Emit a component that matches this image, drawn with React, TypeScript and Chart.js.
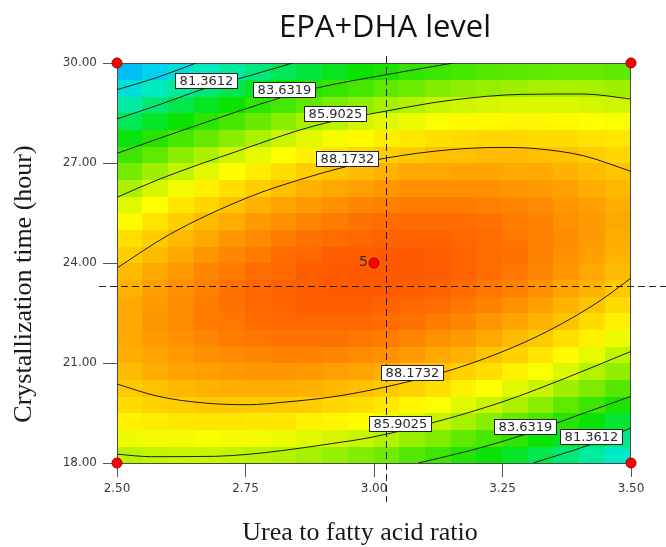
import React, { useEffect, useRef } from 'react';
import { Chart, registerables } from 'chart.js';

Chart.register(...registerables);

// ---------- axis ticks ----------
const xTicks = [2.5, 2.75, 3.0, 3.25, 3.5];
const yTicks = [18, 21, 24, 27, 30];

// ---------- response surface grid (cell edges + values, rows bottom -> top) ----------
const xEdges = [2.5, 2.55, 2.6, 2.65, 2.7, 2.75, 2.8, 2.85, 2.9, 2.95, 3.0, 3.05, 3.1, 3.15, 3.2, 3.25, 3.3, 3.35, 3.4, 3.45, 3.5];
const yEdges = [18, 18.5, 19, 19.5, 20, 20.5, 21, 21.5, 22, 22.5, 23, 23.5, 24, 24.5, 25, 25.5, 26, 26.5, 27, 27.5, 28, 28.5, 29, 29.5, 30];
const surface = [
  [85.8, 85.9, 86.0, 86.0, 85.9, 85.8, 85.7, 85.5, 85.3, 85.0, 84.7, 84.3, 83.9, 83.4, 82.9, 82.4, 81.8, 81.2, 80.5, 79.8],
  [86.6, 86.7, 86.7, 86.8, 86.7, 86.7, 86.6, 86.4, 86.2, 86.0, 85.7, 85.3, 85.0, 84.5, 84.1, 83.6, 83.0, 82.4, 81.7, 81.0],
  [87.2, 87.3, 87.4, 87.5, 87.5, 87.4, 87.4, 87.2, 87.1, 86.9, 86.6, 86.3, 85.9, 85.5, 85.1, 84.6, 84.1, 83.5, 82.9, 82.2],
  [87.7, 87.9, 88.0, 88.1, 88.1, 88.1, 88.1, 88.0, 87.8, 87.6, 87.4, 87.1, 86.8, 86.4, 86.0, 85.6, 85.1, 84.5, 83.9, 83.3],
  [88.1, 88.3, 88.5, 88.6, 88.7, 88.7, 88.7, 88.6, 88.5, 88.3, 88.1, 87.9, 87.6, 87.2, 86.9, 86.4, 86.0, 85.4, 84.9, 84.3],
  [88.4, 88.7, 88.9, 89.0, 89.1, 89.2, 89.2, 89.1, 89.0, 88.9, 88.7, 88.5, 88.3, 87.9, 87.6, 87.2, 86.8, 86.3, 85.7, 85.2],
  [88.7, 88.9, 89.1, 89.3, 89.4, 89.5, 89.6, 89.6, 89.5, 89.4, 89.3, 89.1, 88.8, 88.6, 88.2, 87.9, 87.5, 87.0, 86.5, 85.9],
  [88.8, 89.1, 89.3, 89.5, 89.7, 89.8, 89.9, 89.9, 89.9, 89.8, 89.7, 89.5, 89.3, 89.1, 88.8, 88.4, 88.1, 87.6, 87.2, 86.6],
  [88.8, 89.2, 89.4, 89.7, 89.8, 90.0, 90.1, 90.1, 90.1, 90.1, 90.0, 89.9, 89.7, 89.5, 89.2, 88.9, 88.6, 88.2, 87.7, 87.2],
  [88.8, 89.1, 89.4, 89.7, 89.9, 90.1, 90.2, 90.3, 90.3, 90.3, 90.2, 90.1, 90.0, 89.8, 89.6, 89.3, 89.0, 88.6, 88.2, 87.7],
  [88.6, 89.0, 89.3, 89.6, 89.9, 90.1, 90.2, 90.3, 90.4, 90.4, 90.4, 90.3, 90.2, 90.0, 89.8, 89.6, 89.3, 88.9, 88.6, 88.1],
  [88.4, 88.8, 89.1, 89.5, 89.7, 90.0, 90.1, 90.3, 90.4, 90.4, 90.4, 90.4, 90.3, 90.2, 90.0, 89.8, 89.5, 89.2, 88.8, 88.4],
  [88.0, 88.4, 88.8, 89.2, 89.5, 89.7, 90.0, 90.1, 90.3, 90.3, 90.4, 90.4, 90.3, 90.2, 90.0, 89.9, 89.6, 89.3, 89.0, 88.6],
  [87.6, 88.0, 88.5, 88.8, 89.2, 89.4, 89.7, 89.9, 90.0, 90.1, 90.2, 90.2, 90.2, 90.1, 90.0, 89.8, 89.6, 89.4, 89.1, 88.7],
  [87.0, 87.5, 88.0, 88.4, 88.7, 89.1, 89.3, 89.5, 89.7, 89.9, 90.0, 90.0, 90.0, 90.0, 89.9, 89.7, 89.6, 89.3, 89.1, 88.8],
  [86.4, 86.9, 87.4, 87.8, 88.2, 88.6, 88.9, 89.1, 89.3, 89.5, 89.6, 89.7, 89.7, 89.7, 89.6, 89.5, 89.4, 89.2, 89.0, 88.7],
  [85.6, 86.2, 86.7, 87.2, 87.6, 88.0, 88.3, 88.6, 88.8, 89.0, 89.2, 89.3, 89.3, 89.3, 89.3, 89.2, 89.1, 89.0, 88.7, 88.5],
  [84.8, 85.4, 85.9, 86.4, 86.9, 87.3, 87.6, 88.0, 88.2, 88.4, 88.6, 88.8, 88.8, 88.9, 88.9, 88.8, 88.8, 88.6, 88.4, 88.2],
  [83.9, 84.5, 85.1, 85.6, 86.1, 86.5, 86.9, 87.2, 87.5, 87.8, 88.0, 88.1, 88.3, 88.3, 88.4, 88.4, 88.3, 88.2, 88.0, 87.8],
  [82.8, 83.5, 84.1, 84.6, 85.1, 85.6, 86.0, 86.4, 86.7, 87.0, 87.3, 87.4, 87.6, 87.7, 87.8, 87.8, 87.7, 87.7, 87.5, 87.4],
  [81.7, 82.4, 83.0, 83.6, 84.1, 84.6, 85.1, 85.5, 85.8, 86.2, 86.4, 86.6, 86.8, 87.0, 87.0, 87.1, 87.1, 87.0, 86.9, 86.8],
  [80.5, 81.2, 81.9, 82.5, 83.0, 83.6, 84.0, 84.5, 84.9, 85.2, 85.5, 85.7, 86.0, 86.1, 86.2, 86.3, 86.3, 86.3, 86.2, 86.1],
  [79.2, 79.9, 80.6, 81.2, 81.8, 82.4, 82.9, 83.4, 83.8, 84.1, 84.5, 84.7, 85.0, 85.2, 85.3, 85.4, 85.5, 85.5, 85.5, 85.4],
  [77.8, 78.5, 79.2, 79.9, 80.5, 81.1, 81.7, 82.1, 82.6, 83.0, 83.3, 83.7, 83.9, 84.1, 84.3, 84.4, 84.5, 84.6, 84.6, 84.5],
];

// colour scale: response value -> RGB
const colorStops: [number, number[]][] = [
  [76.5, [0, 150, 255]],
  [78.5, [0, 210, 240]],
  [80.0, [0, 236, 190]],
  [81.5, [0, 232, 100]],
  [83.0, [10, 226, 0]],
  [84.5, [95, 233, 0]],
  [86.0, [200, 245, 0]],
  [86.9, [255, 255, 0]],
  [88.0, [255, 205, 0]],
  [89.0, [255, 160, 0]],
  [90.0, [255, 108, 0]],
  [90.5, [255, 85, 0]],
];

// ---------- contour lines ----------
const contour7909 = [
  { x: 2.5, y: 29.2 }, { x: 2.577, y: 29.56 }, { x: 2.654, y: 30.0 },
];
const contour8136Upper = [
  { x: 2.5, y: 28.32 }, { x: 2.586, y: 28.77 }, { x: 2.674, y: 29.25 }, { x: 2.758, y: 29.62 }, { x: 2.842, y: 30.0 },
];
const contour8363Upper = [
  { x: 2.5, y: 27.29 }, { x: 2.661, y: 28.16 }, { x: 2.823, y: 28.98 }, { x: 2.888, y: 29.25 }, { x: 3.024, y: 29.65 }, { x: 3.154, y: 30.0 },
];
const contour8590Upper = [
  { x: 2.5, y: 25.97 }, { x: 2.58, y: 26.5 }, { x: 2.739, y: 27.38 }, { x: 2.885, y: 28.12 }, { x: 3.024, y: 28.56 },
  { x: 3.148, y: 28.88 }, { x: 3.29, y: 29.06 }, { x: 3.407, y: 29.07 }, { x: 3.5, y: 28.92 },
];
const contour8817Upper = [
  { x: 2.5, y: 23.85 }, { x: 2.602, y: 24.855 }, { x: 2.758, y: 25.986 }, { x: 2.855, y: 26.496 }, { x: 2.953, y: 26.919 },
  { x: 3.024, y: 27.15 }, { x: 3.148, y: 27.399 }, { x: 3.251, y: 27.468 }, { x: 3.316, y: 27.429 }, { x: 3.407, y: 27.219 }, { x: 3.5, y: 26.748 },
];
const contour8817Lower = [
  { x: 2.5, y: 20.37 }, { x: 2.58, y: 20.0 }, { x: 2.67, y: 19.8 }, { x: 2.755, y: 19.749 }, { x: 2.82, y: 19.818 },
  { x: 2.917, y: 19.98 }, { x: 3.002, y: 20.214 }, { x: 3.134, y: 20.715 }, { x: 3.245, y: 21.309 }, { x: 3.342, y: 21.987 },
  { x: 3.44, y: 22.869 }, { x: 3.5, y: 23.55 },
];
const contour8590Lower = [
  { x: 2.5, y: 18.264 }, { x: 2.567, y: 18.19 }, { x: 2.69, y: 18.2 }, { x: 2.755, y: 18.26 }, { x: 2.82, y: 18.37 },
  { x: 2.917, y: 18.58 }, { x: 2.996, y: 18.774 }, { x: 3.112, y: 19.2 }, { x: 3.251, y: 19.839 }, { x: 3.381, y: 20.598 }, { x: 3.5, y: 21.348 },
];
const contour8363Lower = [
  { x: 3.086, y: 18.0 }, { x: 3.186, y: 18.369 }, { x: 3.296, y: 18.87 }, { x: 3.4, y: 19.449 }, { x: 3.5, y: 20.0 },
];
const contour8136Lower = [
  { x: 3.31, y: 18.0 }, { x: 3.362, y: 18.252 }, { x: 3.426, y: 18.58 }, { x: 3.5, y: 19.05 },
];

// contour label anchors (centre of label boxes)
const contourLabelTexts = ['81.3612', '83.6319', '85.9025', '88.1732', '88.1732', '85.9025', '83.6319', '81.3612'];
const contourLabelX = [2.674, 2.824, 2.924, 2.948, 3.074, 3.05, 3.294, 3.423];
const contourLabelY = [29.475, 29.2, 28.5, 27.15, 20.71, 19.19, 19.09, 18.79];

// design points
const designPoints = [
  { x: 2.5, y: 18 }, { x: 2.5, y: 30 }, { x: 3.5, y: 18 }, { x: 3.5, y: 30 }, { x: 3.0, y: 24 },
];
const replicateLabel = { x: 3.0, y: 24, text: '5' };

// crosshair (flag) position
const flagX = 3.024;
const flagY = 23.32;

// ---------- helpers ----------
function colorFor(v: number): string {
  const s = colorStops;
  const rgb = (c: number[]) => `rgb(${Math.round(c[0])},${Math.round(c[1])},${Math.round(c[2])})`;
  if (v <= s[0][0]) return rgb(s[0][1]);
  for (let k = 1; k < s.length; k++) {
    if (v <= s[k][0]) {
      const [v0, c0] = s[k - 1];
      const [v1, c1] = s[k];
      const t = (v - v0) / (v1 - v0);
      return rgb([c0[0] + (c1[0] - c0[0]) * t, c0[1] + (c1[1] - c0[1]) * t, c0[2] + (c1[2] - c0[2]) * t]);
    }
  }
  return rgb(s[s.length - 1][1]);
}

const surfacePlugin = {
  id: 'surfacePlugin',
  beforeDatasetsDraw(chart: any) {
    const { ctx, chartArea } = chart;
    const xs = chart.scales.x;
    const ys = chart.scales.y;
    ctx.save();
    for (let j = 0; j < surface.length; j++) {
      const yTop = ys.getPixelForValue(yEdges[j + 1]);
      const yBot = ys.getPixelForValue(yEdges[j]);
      for (let i = 0; i < surface[j].length; i++) {
        const xl = xs.getPixelForValue(xEdges[i]);
        const xr = xs.getPixelForValue(xEdges[i + 1]);
        ctx.fillStyle = colorFor(surface[j][i]);
        const x0 = Math.floor(xl);
        const y0 = Math.floor(yTop);
        ctx.fillRect(x0, y0, Math.ceil(xr) - x0, Math.ceil(yBot) - y0);
      }
    }
    ctx.strokeStyle = '#4a4a4a';
    ctx.lineWidth = 1;
    ctx.strokeRect(chartArea.left + 0.5, chartArea.top + 0.5, chartArea.width - 1, chartArea.height);
    ctx.restore();
  },
};

const overlayPlugin = {
  id: 'overlayPlugin',
  afterDatasetsDraw(chart: any) {
    const { ctx, chartArea } = chart;
    const xs = chart.scales.x;
    const ys = chart.scales.y;
    ctx.save();

    // crosshair dashed lines
    ctx.strokeStyle = '#1e1e1e';
    ctx.lineWidth = 1;
    ctx.setLineDash([7, 4]);
    const fx = Math.round(xs.getPixelForValue(flagX)) + 0.5;
    const fy = Math.round(ys.getPixelForValue(flagY)) + 0.5;
    ctx.beginPath();
    ctx.moveTo(fx, chartArea.top - 7);
    ctx.lineTo(fx, chartArea.bottom + 39);
    ctx.stroke();
    ctx.beginPath();
    ctx.moveTo(chartArea.left - 18, fy);
    ctx.lineTo(chart.width, fy);
    ctx.stroke();
    ctx.setLineDash([]);

    // contour labels
    ctx.font = '13px "DejaVu Sans"';
    ctx.textAlign = 'center';
    ctx.textBaseline = 'middle';
    for (let k = 0; k < contourLabelTexts.length; k++) {
      const t = contourLabelTexts[k];
      const cx = xs.getPixelForValue(contourLabelX[k]);
      const cy = ys.getPixelForValue(contourLabelY[k]);
      const w = Math.round(ctx.measureText(t).width + 8);
      const h = 15;
      const bx = Math.round(cx - w / 2) + 0.5;
      const by = Math.round(cy - h / 2) + 0.5;
      ctx.fillStyle = '#ffffff';
      ctx.fillRect(bx, by, w, h);
      ctx.strokeStyle = '#222222';
      ctx.strokeRect(bx, by, w, h);
      ctx.fillStyle = '#2a2a2a';
      ctx.fillText(t, bx + w / 2, by + h / 2 + 0.5);
    }

    // replicate count label
    ctx.font = '14px "DejaVu Sans"';
    ctx.textAlign = 'right';
    ctx.textBaseline = 'alphabetic';
    ctx.fillStyle = '#3a2a2a';
    ctx.fillText(replicateLabel.text, xs.getPixelForValue(replicateLabel.x) - 6, ys.getPixelForValue(replicateLabel.y) + 3);

    ctx.restore();
  },
  afterDraw(chart: any) {
    const { ctx } = chart;
    ctx.save();
    ctx.fillStyle = '#111111';
    ctx.textAlign = 'center';
    ctx.textBaseline = 'alphabetic';
    ctx.font = '31px "Open Sans"';
    ctx.fillText('EPA+DHA level', 385, 37);

    ctx.fillStyle = '#1a1a1a';
    ctx.font = '26px "Liberation Serif"';
    ctx.fillText('Urea to fatty acid ratio', 360, 540);

    ctx.translate(31, 284);
    ctx.rotate(-Math.PI / 2);
    ctx.fillText('Crystallization time (hour)', 0, 0);
    ctx.restore();
  },
};

const contourSets = [
  contour7909, contour8136Upper, contour8363Upper, contour8590Upper, contour8817Upper,
  contour8817Lower, contour8590Lower, contour8363Lower, contour8136Lower,
];

export default function App() {
  const ref = useRef<HTMLCanvasElement>(null);

  useEffect(() => {
    if (!ref.current) return;
    const tickFont = { family: 'DejaVu Sans', size: 12 };
    const chart = new Chart(ref.current, {
      type: 'scatter',
      data: {
        datasets: [
          {
            label: 'design',
            data: designPoints,
            pointRadius: 5,
            pointBackgroundColor: '#ff0000',
            pointBorderColor: '#a00000',
            pointBorderWidth: 1,
            showLine: false,
            clip: false,
          } as any,
          ...contourSets.map((c) => ({
            label: 'contour',
            data: c,
            showLine: true,
            borderColor: '#1c1c1c',
            borderWidth: 1,
            pointRadius: 0,
            cubicInterpolationMode: 'monotone',
            fill: false,
          } as any)),
        ],
      },
      options: {
        animation: false,
        responsive: false,
        events: [],
        layout: { padding: { left: 0, top: 63, right: 35, bottom: 0 } },
        plugins: {
          legend: { display: false },
          tooltip: { enabled: false },
          title: { display: false },
        },
        scales: {
          x: {
            type: 'linear',
            min: 2.5,
            max: 3.5,
            afterBuildTicks: (s: any) => { s.ticks = xTicks.map((v) => ({ value: v })); },
            afterFit: (s: any) => { s.height = 84; },
            ticks: {
              callback: (v: any) => Number(v).toFixed(2),
              font: tickFont,
              color: '#3a3a3a',
              padding: 5,
              maxRotation: 0,
              autoSkip: false,
            },
            grid: { drawOnChartArea: false, drawTicks: true, tickLength: 14, color: '#555555', tickColor: '#555555' },
            border: { display: false },
          },
          y: {
            type: 'linear',
            min: 18,
            max: 30,
            afterBuildTicks: (s: any) => { s.ticks = yTicks.map((v) => ({ value: v })); },
            afterFit: (s: any) => { s.width = 117; },
            ticks: {
              callback: (v: any) => Number(v).toFixed(2),
              font: tickFont,
              color: '#3a3a3a',
              padding: 6,
              autoSkip: false,
            },
            grid: { drawOnChartArea: false, drawTicks: true, tickLength: 14, color: '#555555', tickColor: '#555555' },
            border: { display: false },
          },
        },
      } as any,
      plugins: [surfacePlugin, overlayPlugin],
    });
    return () => chart.destroy();
  }, []);

  return (
    <div style={{ position: 'fixed', left: 0, top: 0, width: 666, height: 547, background: '#ffffff' }}>
      <canvas ref={ref} width={666} height={547} style={{ display: 'block', width: 666, height: 547 }} />
    </div>
  );
}
